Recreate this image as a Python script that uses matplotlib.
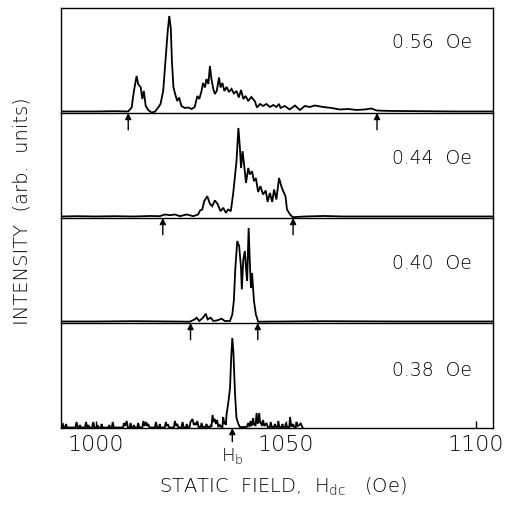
import matplotlib
matplotlib.use("Agg")
import matplotlib.pyplot as plt

plt.rcParams['font.family'] = ['DejaVu Sans']
plt.rcParams['font.weight'] = 'light'
plt.rcParams['mathtext.fontset'] = 'dejavusans'

# ---------------- data ----------------
labels = ["0.56  Oe", "0.44  Oe", "0.40  Oe", "0.38  Oe"]

x056 = [990.8, 1000, 1005, 1008.5, 1009.4, 1010, 1010.7, 1011.1, 1011.8, 1012.2, 1012.6, 1013.1,
        1013.8, 1014.6, 1015.5, 1016.4, 1017, 1017.7, 1018.3, 1018.9, 1019.3, 1019.7, 1020, 1020.4,
        1021, 1021.4, 1021.9, 1022.5, 1023.4, 1024.3, 1025.2, 1026, 1026.7, 1027.2, 1027.8, 1028.2,
        1028.7, 1029.1, 1029.6, 1030, 1030.4, 1030.9, 1031.3, 1031.8, 1032.4, 1032.8, 1033.3, 1033.8,
        1034.4, 1035, 1035.7, 1036.3, 1037, 1037.6, 1038.2, 1038.8, 1039.4, 1040.1, 1040.9, 1041.8,
        1042.4, 1043.2, 1044, 1044.9, 1045.8, 1046.7, 1047.5, 1048.2, 1048.6, 1049.7, 1051, 1052.4,
        1053.7, 1055, 1056.3, 1057.6, 1059.8, 1062, 1064.2, 1066.4, 1068.6, 1070.8, 1072.5, 1073.9,
        1075.6, 1079.1, 1085, 1095, 1104.5]
y056 = [1.5, 1.5, 1.8, 1.5, 5.5, 22, 37, 29, 25.5, 14, 22, 7,
        2.8, 0.5, 1.2, 5.5, 9, 22, 52, 82, 97, 85, 52, 25.5,
        17, 12, 15.5, 7, 5, 5.5, 4, 6, 17, 14, 22, 30,
        25.5, 34, 29, 47, 34, 24, 19, 22, 35.5, 25.5, 30, 22,
        26, 21, 24, 19.5, 22, 15.5, 23, 14, 17, 12, 16, 12,
        5.5, 9, 7, 9, 6, 8, 6, 9, 5, 7, 3.5, 7.5,
        3, 7, 6, 7.5, 6, 5, 3.5, 4, 3, 3.5, 4.5, 2.5,
        2.2, 2, 1.8, 1.5, 1.5]

x044 = [990.8, 995, 1000, 1005, 1010, 1014.2, 1016.8, 1018.2, 1019.5, 1020.8, 1022.1, 1023.9,
        1025.6, 1026.9, 1027.4, 1028, 1028.5, 1029.3, 1030, 1030.6, 1031.3, 1032, 1032.8, 1033.5,
        1034.2, 1034.8, 1035.5, 1036.1, 1036.6, 1037, 1037.5, 1037.9, 1038.2, 1038.6, 1039, 1039.5,
        1040.1, 1040.5, 1041.1, 1041.6, 1042.1, 1042.7, 1043.3, 1044, 1044.7, 1045.2, 1045.8, 1046.4,
        1046.9, 1047.5, 1048.2, 1048.8, 1049.3, 1049.9, 1050.3, 1051.1, 1051.8, 1055, 1060, 1065,
        1080, 1104.5]
y044 = [1.5, 1.8, 1.5, 1.8, 1.5, 2, 1.8, 3.5, 2.8, 3.5, 1.8, 3.5,
        1.8, 3.5, 7.5, 8.5, 16.8, 21.8, 14.2, 11.8, 17.5, 14.2, 6.8, 10.2,
        5.2, 8.5, 6.8, 23.5, 41.8, 56.8, 90, 70, 50, 66.8, 53.5, 35,
        50, 43.5, 46.8, 36.8, 40, 26, 31.8, 23.5, 27.5, 16, 25, 16,
        28.5, 18.5, 40, 31.8, 26.8, 21.8, 8.5, 3.5, 0.8, 1.5, 2, 1.5,
        1.5, 1.5]

x040 = [990.8, 1000, 1010, 1020, 1024.7, 1026, 1026.5, 1027.2, 1028.2, 1028.9, 1029.4, 1030.2,
        1030.9, 1031.9, 1033.1, 1033.9, 1035.3, 1035.9, 1036.3, 1036.7, 1037.2, 1037.7, 1038.2, 1038.4,
        1038.8, 1039.2, 1039.6, 1039.8, 1040.2, 1040.5, 1040.8, 1041.1, 1041.6, 1042.1, 1042.7, 1050,
        1060, 1080, 1104.5]
y040 = [1.5, 1.5, 1.8, 1.5, 1.3, 3.6, 5.3, 2, 5.3, 9.3, 3.6, 5.3,
        2, 2.6, 4.3, 2, 2, 8.6, 22, 55, 82, 77, 55, 33.6,
        63.6, 72, 50, 42, 95, 62, 35, 50, 22, 8.6, 1.3, 1.5,
        1.8, 1.5, 1.5]

x038 = [990.8, 991.0, 991.2, 991.5, 991.9, 992.1, 992.4, 994.6, 994.9, 995.2, 995.6, 995.8, 996.0,
        997.1, 997.4, 997.7, 997.9, 998.0, 998.2, 999.0, 999.3, 999.6, 1000.2, 1000.4, 1000.6,
        1001.3, 1001.5, 1001.7, 1003.3, 1003.5, 1003.8, 1004.2, 1004.4, 1004.7, 1007.1, 1007.4,
        1007.7, 1008.1, 1008.4, 1008.9, 1009.1, 1009.4, 1009.8, 1010.0, 1010.2, 1010.9, 1011.1,
        1011.4, 1012.2, 1012.5, 1012.8, 1013.2, 1013.5, 1013.8, 1014.1, 1015.5, 1015.8, 1016.1,
        1016.6, 1016.8, 1017.0, 1018.1, 1018.4, 1018.7, 1019.0, 1019.3, 1020.5, 1020.8, 1021.1,
        1021.4, 1021.7, 1022.5, 1022.8, 1023.1, 1023.7, 1023.9, 1024.2, 1024.6, 1024.9, 1025.4,
        1025.8, 1026.1, 1026.4, 1026.7, 1027.0, 1027.6, 1027.8, 1028.1, 1028.9, 1029.1, 1029.4,
        1030.0, 1030.2, 1030.4, 1030.7, 1031.0, 1031.3, 1031.6, 1031.9, 1032.2, 1032.6, 1033.0,
        1033.3, 1033.5, 1033.8, 1034.0, 1034.2, 1034.4, 1034.8, 1035.3, 1035.6, 1035.9, 1036.2,
        1036.6, 1037.0, 1037.5, 1037.9, 1039.7, 1040.1, 1040.4, 1040.7, 1041.0, 1041.4, 1041.6,
        1041.8, 1042.0, 1042.3, 1042.6, 1043.0, 1043.2, 1043.4, 1043.7, 1044.0, 1044.3, 1044.9,
        1045.2, 1045.8, 1046.0, 1046.3, 1046.9, 1047.1, 1047.4, 1047.8, 1048.0, 1048.3, 1048.9,
        1049.1, 1049.3, 1049.8, 1050.0, 1050.3, 1050.9, 1051.1, 1051.4, 1051.7, 1051.9, 1052.2,
        1052.6, 1052.8, 1053.1, 1053.6, 1053.9, 1054.2, 1054.4]
y038 = [0.5, 0.5, 5, 0.5, 0.5, 4, 0.5, 0.5, 6, 0.5, 0.5, 3, 0.5,
        0.5, 6, 0.5, 0.5, 3, 0.5, 0.5, 6, 0.5, 0.5, 3, 0.5,
        0.5, 4, 0.5, 0.5, 3, 0.5, 0.5, 6, 0.5, 0.5, 5,
        2, 7, 0.5, 0.5, 5, 0.5, 0.5, 3, 0.5, 0.5, 5,
        0.5, 0.5, 7, 2, 6, 2, 4, 0.5, 0.5, 6, 0.5,
        0.5, 4, 0.5, 0.5, 6, 2, 3, 0.5, 0.5, 7, 2,
        4, 0.5, 0.5, 6, 0.5, 0.5, 4, 0.5, 0.5, 6, 9,
        3, 5, 3, 7, 1, 1, 5, 1, 1, 4, 1,
        1, 3, 1, 13, 6, 9, 4, 8, 1, 3, 1,
        1, 11, 4, 6, 3, 14, 24, 40, 70, 90, 75,
        35, 10, 4, 1, 1, 5, 1, 7, 2, 10, 3,
        4, 2, 15, 4, 15, 5, 6, 2, 8, 2, 5,
        1, 1, 6, 1, 1, 4, 1, 1, 7, 1, 1,
        4, 1, 1, 5, 1, 1, 11, 2, 2, 4, 1,
        1, 6, 2, 3, 5, 2, 0.5]

arrows056 = [1008.5, 1074.0]
arrows044 = [1017.6, 1051.9]
arrows040 = [1024.9, 1042.6]
h_b = 1035.9

xticks = [1000, 1050, 1100]
xlim = (990.8, 1104.5)

traces = [(x056, y056), (x044, y044), (x040, y040), (x038, y038)]
arrow_sets = [arrows056, arrows044, arrows040]
label_y = [0.667, 0.562, 0.571, 0.552]

# ---------------- figure ----------------
fig = plt.figure(figsize=(5.05, 5.08), dpi=100)
gs = fig.add_gridspec(4, 1, left=0.1208, right=0.976, top=0.9843, bottom=0.1575, hspace=0)
axes = [fig.add_subplot(gs[i]) for i in range(4)]

for i, ax in enumerate(axes):
    ax.patch.set_visible(False)
    xs, ys = traces[i]
    ax.plot(xs, ys, color='black', lw=1.3, solid_joinstyle='miter')
    ax.set_xlim(*xlim)
    ax.set_ylim(0, 105)
    ax.set_yticks([])
    for s in ax.spines.values():
        s.set_linewidth(1.0)
    if i > 0:
        ax.spines['top'].set_visible(False)
    ax.text(0.951, label_y[i], labels[i], transform=ax.transAxes, ha='right', va='center',
            fontsize=13.5, color='black')
    if i < 3:
        ax.set_xticks([])
        for xa in arrow_sets[i]:
            ax.annotate('', xy=(xa, 0), xycoords=('data', 'axes fraction'),
                        xytext=(xa, -0.16), textcoords=('data', 'axes fraction'),
                        arrowprops=dict(arrowstyle='-|>', color='black', lw=1.0,
                                        mutation_scale=9, shrinkA=0, shrinkB=0),
                        annotation_clip=False, zorder=10)

axb = axes[3]
axb.set_xticks(xticks)
axb.set_xticklabels([str(t) for t in xticks])
axb.tick_params(axis='x', direction='in', length=5, width=1.0, labelsize=16, pad=5)
axb.annotate('', xy=(h_b, 0), xycoords=('data', 'axes fraction'),
             xytext=(h_b, -0.13), textcoords=('data', 'axes fraction'),
             arrowprops=dict(arrowstyle='-|>', color='black', lw=1.0,
                             mutation_scale=9, shrinkA=0, shrinkB=0),
             annotation_clip=False)
axb.text(h_b, -0.27, r'H$_\mathregular{b}$', transform=axb.get_xaxis_transform(),
         ha='center', va='center', fontsize=13)

fig.text(0.56, 0.041, r'STATIC  FIELD,  H$_\mathregular{dc}$   (Oe)', ha='center', va='center',
         fontsize=14)
fig.text(0.044, 0.585, 'INTENSITY  (arb.  units)', rotation=90, ha='center', va='center',
         fontsize=14)

fig.savefig('out.png', dpi=100)
